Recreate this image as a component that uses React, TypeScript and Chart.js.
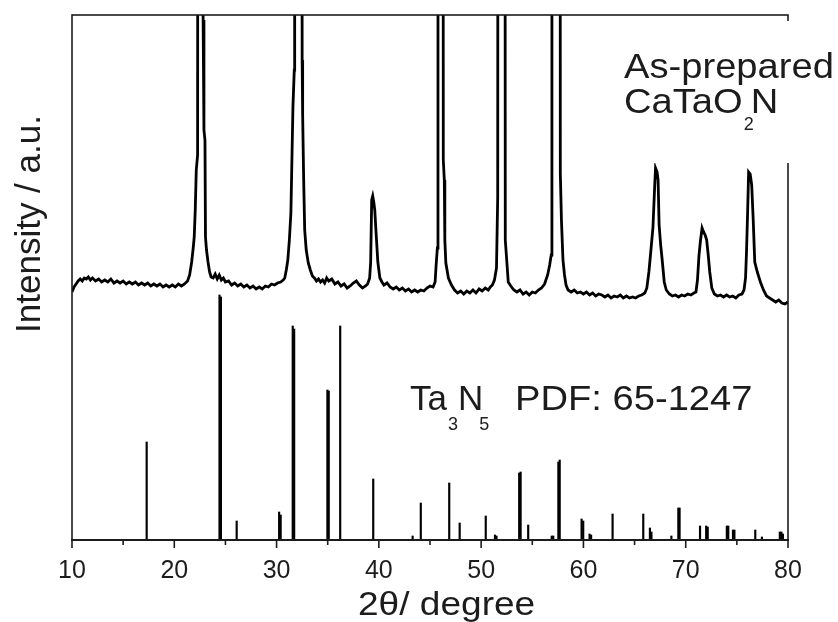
import React, { useEffect, useRef } from 'react';
import { Chart, registerables } from 'chart.js';

Chart.register(...registerables);

// Measured XRD scan of as-prepared CaTaO2N (2θ in degrees, intensity in a.u.)
const scanTheta = [
  10.0, 10.2, 10.4, 10.6, 10.8, 11.0, 11.2, 11.4, 11.6, 11.8,
  12.0, 12.3, 12.6, 12.9, 13.2, 13.5, 13.8, 14.1, 14.4, 14.7,
  15.0, 15.3, 15.6, 15.9, 16.2, 16.5, 16.8, 17.1, 17.4, 17.7,
  18.0, 18.3, 18.6, 18.9, 19.2, 19.5, 19.8, 20.1, 20.4, 20.7,
  21.0, 21.3, 21.5, 21.7, 21.85, 21.95, 22.05, 22.15, 22.28, 22.32,
  22.55, 22.78, 22.82, 22.9, 23.0, 23.05, 23.15, 23.3, 23.45, 23.6,
  23.8, 24.0, 24.2, 24.4, 24.6, 24.8, 25.0, 25.3, 25.6, 25.9,
  26.2, 26.5, 26.8, 27.1, 27.4, 27.7, 28.0, 28.3, 28.6, 28.9,
  29.2, 29.5, 29.8, 30.1, 30.4,
  30.65, 30.8, 30.95, 31.1, 31.25, 31.4, 31.5, 31.6, 31.73, 31.77,
  32.1, 32.45, 32.5, 32.55, 32.65, 32.75, 32.9, 33.1, 33.3, 33.5,
  33.7, 33.9, 34.1, 34.3, 34.5, 34.7, 34.9, 35.1, 35.4, 35.7,
  36.0, 36.3, 36.6, 36.9, 37.2, 37.5, 37.8, 38.1, 38.4, 38.7,
  38.9, 39.1, 39.2, 39.3, 39.4, 39.5, 39.6, 39.7, 39.8, 39.9,
  40.1, 40.3,
  40.5, 40.8, 41.1, 41.4, 41.7, 42.0, 42.3, 42.6, 42.9, 43.2,
  43.5, 43.8, 44.1, 44.4, 44.7, 45.0, 45.3,
  45.5, 45.6, 45.72, 45.78, 46.0, 46.25, 46.3, 46.4, 46.45, 46.55,
  46.8, 47.1, 47.4,
  47.7, 48.0, 48.3, 48.6, 48.9, 49.2, 49.5, 49.8, 50.1, 50.4,
  50.7, 50.9,
  51.1, 51.3, 51.5, 51.62, 51.67, 52.0, 52.3, 52.36, 52.5, 52.65,
  52.9, 53.2, 53.5, 53.8, 54.1, 54.4, 54.7, 55.0, 55.3,
  55.6, 55.9, 56.2,
  56.5, 56.7, 56.85, 56.92, 57.3, 57.7, 57.74, 57.85, 58.0, 58.15,
  58.3,
  58.5, 58.8, 59.1, 59.4, 59.7, 60.0, 60.3, 60.6, 60.9, 61.2,
  61.5, 61.8, 62.1, 62.4, 62.7, 63.0, 63.3, 63.6, 63.9, 64.2,
  64.5, 64.8, 65.1, 65.4, 65.7, 66.0,
  66.2, 66.4, 66.6, 66.8, 66.95, 67.05, 67.2, 67.3, 67.4, 67.55,
  67.7, 67.9, 68.1,
  68.4, 68.7, 69.0, 69.3, 69.6, 69.9, 70.2, 70.5, 70.8,
  71.0, 71.15, 71.3, 71.45, 71.6, 71.75, 71.9, 72.05, 72.2, 72.35,
  72.55,
  72.8, 73.1, 73.4, 73.7, 74.0, 74.3, 74.6, 74.9, 75.2, 75.5,
  75.7, 75.85, 75.95, 76.05, 76.15, 76.3, 76.45, 76.6, 76.75, 77.0,
  77.3, 77.6, 77.9, 78.2, 78.5, 78.8, 79.1, 79.4, 79.7, 80.0,
];

const scanIntensity = [
  248, 253, 256, 259, 261, 259, 262, 261, 263, 260,
  262, 259, 261, 258, 260, 258, 261, 257, 259, 257,
  259, 256, 258, 256, 258, 255, 257, 255, 257, 254,
  256, 254, 256, 253, 255, 253, 255, 253, 256, 254,
  256, 259, 265, 278, 292, 303, 330, 370, 385, 1200,
  1500, 1200, 520, 410, 400, 303, 290, 278, 268, 263,
  262, 266, 261, 265, 260, 262, 258, 259, 255, 257,
  254, 256, 253, 255, 252, 254, 251, 253, 251, 254,
  253, 256, 255, 257, 258,
  260, 262, 270, 280, 300, 327, 380, 433, 470, 1500,
  1800, 1500, 480, 425, 360, 310, 290, 277, 270, 264,
  262, 259, 261, 258, 260, 257, 262, 259, 261, 256,
  258, 254, 256, 252, 254, 257, 259, 255, 252, 254,
  256, 262, 278, 340, 344, 338, 330, 312, 295, 278,
  262, 258,
  255, 257, 253, 251, 253, 250, 252, 249, 251, 248,
  250, 248, 250, 249, 252, 254, 253,
  258, 275, 292, 1400, 1600, 1400, 380, 360, 300, 277,
  262, 255, 250,
  247, 249, 246, 249, 247, 250, 247, 251, 249, 252,
  250, 253,
  255, 260, 272, 343, 1400, 1600, 1400, 300, 280, 258,
  254, 250, 248, 250, 246, 248, 245, 248, 247,
  250, 252, 256,
  265, 275, 285, 1400, 1600, 1400, 367, 320, 280, 265,
  255,
  250, 248, 250, 247, 248, 246, 248, 245, 247, 244,
  246, 245, 243, 245, 242, 244, 243, 245, 242, 244,
  242, 243, 242, 244, 245, 247,
  252, 268, 290, 313, 350, 372, 368, 360, 315, 295,
  280, 258, 250,
  246, 244, 245, 243, 245, 244, 246, 245, 247,
  248, 260, 285, 300, 312, 308, 305, 300, 285, 268,
  252,
  246, 244, 245, 243, 245, 243, 244, 242, 245, 246,
  250, 262, 290, 327, 368, 366, 355, 320, 278, 268,
  258, 250, 244, 242, 240, 238, 240, 237, 236, 238,
];

// Ta3N5 reference pattern, PDF 65-1247 (stick positions and heights)
const refTheta = [
  17.3, 24.42, 24.56, 26.1, 30.25, 30.4, 31.58, 31.72, 34.97, 35.1,
  36.22, 39.45, 43.3, 44.1, 46.88, 47.9, 50.45, 51.35, 51.5, 53.72,
  53.86, 54.6, 56.9, 57.05, 57.55, 57.68, 59.82, 59.98, 60.6, 60.75,
  62.85, 65.85, 66.5, 66.65, 68.6, 69.28, 69.4, 71.4, 72.0, 72.15,
  74.02, 74.16, 74.62, 74.76, 76.8, 77.45, 79.2, 79.35, 79.5,
];
const refIntensity = [
  98, 245, 243, 19, 28, 25, 214, 211, 150, 149,
  214, 61, 4, 37, 57, 17, 24, 5, 4, 67,
  68, 15, 4, 4, 78, 80, 21, 19, 6, 5,
  26, 26, 12, 8, 4, 32, 32, 14, 14, 13,
  14, 14, 10, 10, 10, 3, 8, 8, 6,
];

const xMajorTicks = [10, 20, 30, 40, 50, 60, 70, 80];
const xTickLabels = ['10', '20', '30', '40', '50', '60', '70', '80'];
const xMinorTicks = [15, 25, 35, 45, 55, 65, 75];
const xTitle = '2θ/ degree';
const yTitle = 'Intensity / a.u.';
const sampleLabel1 = 'As-prepared';
const sampleLabel2 = ['CaTaO', '2', 'N'];
const refLabel = ['Ta', '3', 'N', '5', 'PDF: 65-1247'];

const FONT = '"Liberation Sans", Arial, sans-serif';
const INK = '#1c1c1c';

function drawText(ctx: CanvasRenderingContext2D, text: string, x: number, y: number, size: number, sx: number) {
  ctx.save();
  ctx.font = `${size}px ${FONT}`;
  const w = ctx.measureText(text).width * sx;
  ctx.translate(x, y);
  ctx.scale(sx, 1);
  ctx.fillText(text, 0, 0);
  ctx.restore();
  return w;
}

const decorPlugin = {
  id: 'decor',
  afterDatasetsDraw(chart: any) {
    const { ctx, chartArea: a, scales } = chart;
    const xs = scales.x;
    ctx.save();
    ctx.strokeStyle = INK;
    ctx.fillStyle = INK;
    // frame
    ctx.lineWidth = 1.6;
    ctx.strokeRect(a.left, a.top, a.right - a.left, a.bottom - a.top);
    ctx.lineWidth = 2.2;
    ctx.beginPath();
    ctx.moveTo(a.left - 1, a.bottom);
    ctx.lineTo(a.right + 1, a.bottom);
    ctx.stroke();
    // ticks (outward)
    ctx.lineWidth = 1.6;
    for (const v of xMajorTicks) {
      const px = xs.getPixelForValue(v);
      ctx.beginPath();
      ctx.moveTo(px, a.bottom);
      ctx.lineTo(px, a.bottom + 8);
      ctx.stroke();
    }
    for (const v of xMinorTicks) {
      const px = xs.getPixelForValue(v);
      ctx.beginPath();
      ctx.moveTo(px, a.bottom);
      ctx.lineTo(px, a.bottom + 5);
      ctx.stroke();
    }
    // tick labels
    ctx.textBaseline = 'alphabetic';
    ctx.textAlign = 'center';
    ctx.font = `25px ${FONT}`;
    xMajorTicks.forEach((v, i) => {
      ctx.fillText(xTickLabels[i], xs.getPixelForValue(v), a.bottom + 38);
    });
    // x title
    ctx.textAlign = 'left';
    drawText(ctx, xTitle, 358, a.bottom + 75, 34, 1.09);
    // y title
    ctx.save();
    ctx.translate(40, 224);
    ctx.rotate(-Math.PI / 2);
    ctx.textAlign = 'center';
    ctx.font = `35px ${FONT}`;
    ctx.fillText(yTitle, 0, 0);
    ctx.restore();
    // label box (hides the right frame behind the text)
    ctx.fillStyle = '#ffffff';
    ctx.fillRect(612, a.top + 6, 838 - 612, 142);
    ctx.fillStyle = INK;
    ctx.textAlign = 'left';
    drawText(ctx, sampleLabel1, 624, 78, 35, 1.09);
    let x = 624;
    x += drawText(ctx, sampleLabel2[0], x, 113, 35, 1.09);
    const sw = drawText(ctx, sampleLabel2[1], x + 1, 130, 18, 1.0);
    x += sw * 0.8;
    drawText(ctx, sampleLabel2[2], x, 113, 35, 1.09);
    // reference label
    let rx = 410;
    rx += drawText(ctx, refLabel[0], rx, 410, 35, 1.0);
    rx += drawText(ctx, refLabel[1], rx + 1, 430, 18, 1.0) + 1;
    rx += drawText(ctx, refLabel[2], rx, 410, 35, 1.0);
    drawText(ctx, refLabel[3], rx - 4, 430, 18, 1.0);
    drawText(ctx, refLabel[4], 515, 410, 35, 1.09);
    ctx.restore();
  },
};

export default function App() {
  const ref = useRef<HTMLCanvasElement | null>(null);
  useEffect(() => {
    document.body.style.margin = '0';
    const canvas = ref.current;
    if (!canvas) return;
    const chart = new Chart(canvas, {
      type: 'line',
      data: {
        datasets: [
          {
            type: 'line',
            data: scanTheta.map((t, i) => ({ x: t, y: scanIntensity[i] })),
            borderColor: '#000000',
            borderWidth: 2.8,
            pointRadius: 0,
            tension: 0,
            order: 1,
          } as any,
          {
            type: 'bar',
            data: refTheta.map((t, i) => ({ x: t, y: refIntensity[i] })),
            backgroundColor: '#000000',
            borderWidth: 0,
            barThickness: 1.5,
            order: 2,
          } as any,
        ],
      },
      options: {
        responsive: false,
        animation: false,
        devicePixelRatio: 1,
        layout: { padding: { left: 72, right: 50, top: 15, bottom: 82 } },
        plugins: { legend: { display: false }, tooltip: { enabled: false } },
        events: [],
        scales: {
          x: { type: 'linear', min: 10, max: 80, display: false, offset: false },
          y: { type: 'linear', min: 0, max: 525, display: false },
        },
      },
      plugins: [decorPlugin],
    });
    return () => chart.destroy();
  }, []);
  return (
    <div style={{ width: 838, height: 622, background: '#fff' }}>
      <canvas ref={ref} width={838} height={622} style={{ display: 'block' }} />
    </div>
  );
}
